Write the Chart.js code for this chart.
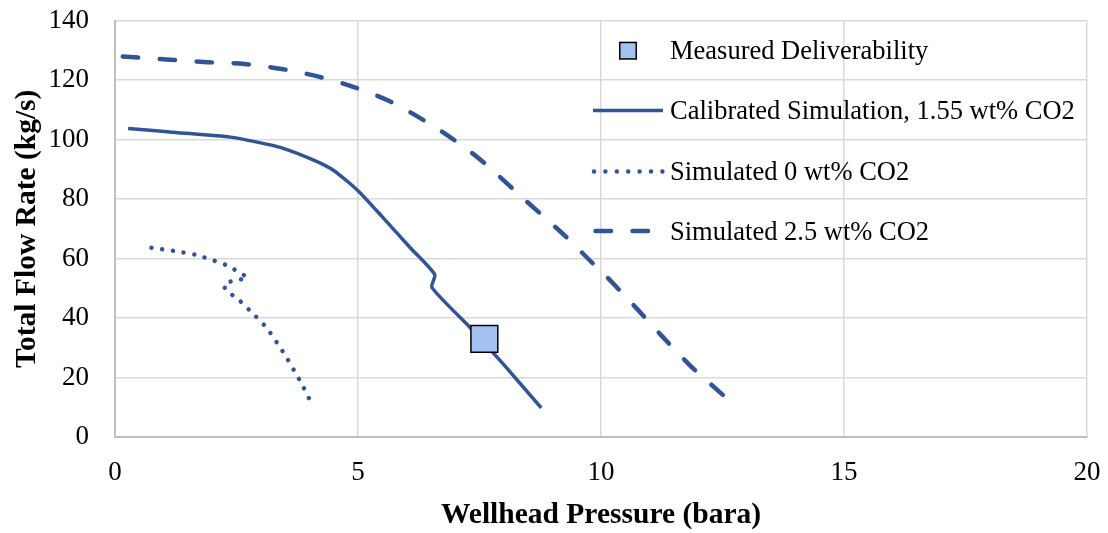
<!DOCTYPE html>
<html>
<head>
<meta charset="utf-8">
<script src="https://cdn.jsdelivr.net/npm/chart.js@4/dist/chart.umd.min.js"></script>
<style>
html,body{margin:0;padding:0;background:#fff;}
#wrap{width:1108px;height:533px;position:relative;}
</style>
</head>
<body>
<div id="wrap"><canvas id="c" width="1108" height="533"></canvas></div>
<script>
// ---- Data ----
const seriesNames = ["Measured Deliverability", "Calibrated Simulation, 1.55 wt% CO2", "Simulated 0 wt% CO2", "Simulated 2.5 wt% CO2"];

const measuredX = [7.6];
const measuredY = [33];

const calibratedX = [0.27, 1.3, 2.37, 2.9, 3.43, 4.1, 4.5, 5.0, 5.5, 6.07, 6.58, 6.52, 7.3, 8.0, 8.77];
const calibratedY = [103.7, 102.3, 100.8, 99.2, 97.2, 93.0, 89.6, 82.8, 74.0, 63.7, 54.6, 50.3, 36.9, 24.3, 9.8];

const sim0X = [0.75, 1.2, 1.65, 2.05, 2.3, 2.5, 2.72, 2.45, 2.24, 2.3, 2.5, 2.8, 3.12, 3.5, 3.83, 4.03];
const sim0Y = [63.6, 62.6, 61.3, 59.2, 57.7, 55.9, 53.5, 52.6, 51.3, 49.0, 46.8, 42.1, 36.7, 27.5, 18.2, 11.7];

const sim25X = [0.16, 1.13, 1.9, 2.66, 3.43, 4.17, 4.9, 5.62, 6.29, 6.93, 7.55, 8.4, 9.26, 9.81, 10.12, 10.66, 11.25, 11.83, 12.38, 12.54];
const sim25Y = [127.9, 126.8, 126.0, 125.4, 123.7, 121.2, 117.7, 113.1, 107.1, 100.4, 92.8, 80.2, 67.6, 58.7, 53.8, 44.5, 34.0, 24.1, 16.0, 13.7];

const xTicks = [0, 5, 10, 15, 20];
const yTicks = [0, 20, 40, 60, 80, 100, 120, 140];

const xTitle = "Wellhead Pressure (bara)";
const yTitle = "Total Flow Rate (kg/s)";

// ---- Helpers ----
const zip = (xs, ys) => xs.map((x, i) => ({x: x, y: ys[i]}));
const BLUE = '#2f5597';
const FILL = '#a4c2f1';
const FONT = "'Liberation Serif', 'Times New Roman', serif";

const legendPlugin = {
  id: 'insideLegend',
  afterDraw(chart) {
    const ctx = chart.ctx;
    ctx.save();
    const textX = 670;
    const baselines = [59, 119, 179.5, 240];
    const mids = [50.7, 110.5, 171.5, 231];
    ctx.font = "26.5px " + FONT;
    ctx.fillStyle = '#000';
    ctx.textBaseline = 'alphabetic';
    ctx.textAlign = 'left';
    seriesNames.forEach((n, i) => ctx.fillText(n, textX, baselines[i]));
    // marker
    ctx.fillStyle = FILL;
    ctx.strokeStyle = '#000';
    ctx.lineWidth = 1.5;
    const s = 16.5;
    ctx.fillRect(628 - s/2, mids[0] - s/2, s, s);
    ctx.strokeRect(628 - s/2, mids[0] - s/2, s, s);
    // solid
    ctx.strokeStyle = BLUE;
    ctx.lineCap = 'butt';
    ctx.lineWidth = 3.5;
    ctx.setLineDash([]);
    ctx.beginPath(); ctx.moveTo(593, mids[1]); ctx.lineTo(663, mids[1]); ctx.stroke();
    // dotted
    ctx.lineCap = 'round';
    ctx.lineWidth = 4.5;
    ctx.setLineDash([0.001, 11.4]);
    ctx.beginPath(); ctx.moveTo(594, mids[2]); ctx.lineTo(664, mids[2]); ctx.stroke();
    // dashed
    ctx.lineWidth = 4.5;
    ctx.setLineDash([15.5, 21.5]);
    ctx.beginPath(); ctx.moveTo(595.5, mids[3]); ctx.lineTo(648, mids[3]); ctx.stroke();
    ctx.restore();
  }
};

const bgPlugin = {
  id: 'bg',
  beforeDraw(chart) {
    const ctx = chart.ctx;
    ctx.save();
    ctx.fillStyle = '#fff';
    ctx.fillRect(0, 0, chart.width, chart.height);
    ctx.restore();
  }
};

new Chart(document.getElementById('c'), {
  type: 'scatter',
  data: {
    datasets: [
      {
        label: seriesNames[0],
        data: zip(measuredX, measuredY),
        pointStyle: 'rect',
        pointRadius: 19,
        pointHoverRadius: 19,
        backgroundColor: FILL,
        borderColor: '#000',
        borderWidth: 1.5,
        showLine: false
      },
      {
        label: seriesNames[1],
        data: zip(calibratedX, calibratedY),
        showLine: true,
        borderColor: BLUE,
        borderWidth: 3.5,
        pointRadius: 0,
        tension: 0.2,
        fill: false
      },
      {
        label: seriesNames[2],
        data: zip(sim0X, sim0Y),
        showLine: true,
        borderColor: BLUE,
        borderWidth: 4.5,
        borderDash: [0.001, 10.8],
        borderCapStyle: 'round',
        pointRadius: 0,
        tension: 0.2,
        fill: false
      },
      {
        label: seriesNames[3],
        data: zip(sim25X, sim25Y),
        showLine: true,
        borderColor: BLUE,
        borderWidth: 4.5,
        borderDash: [15.5, 21.5],
        borderCapStyle: 'round',
        pointRadius: 0,
        tension: 0.3,
        fill: false
      }
    ]
  },
  options: {
    responsive: false,
    animation: false,
    layout: {padding: {top: 19, right: 21, bottom: 0, left: 0}},
    plugins: {
      legend: {display: false},
      tooltip: {enabled: false}
    },
    scales: {
      x: {
        type: 'linear',
        min: 0, max: 20,
        afterBuildTicks(scale) { scale.ticks = xTicks.map(v => ({value: v})); },
        afterFit(scale) { scale.height = 96; scale.paddingLeft = 0; scale.paddingRight = 0; },
        grid: {color: '#d9d9d9', lineWidth: 1.5, drawTicks: false},
        border: {color: '#bfbfbf', width: 2},
        ticks: {color: '#000', font: {family: FONT, size: 27}, padding: 20, maxRotation: 0},
        title: {display: true, text: xTitle, color: '#000', font: {family: FONT, size: 29.5, weight: 'bold'}, padding: {top: 0, bottom: 0}}
      },
      y: {
        type: 'linear',
        min: 0, max: 140,
        afterBuildTicks(scale) { scale.ticks = yTicks.map(v => ({value: v})); },
        afterFit(scale) { scale.width = 115; scale.paddingTop = 0; scale.paddingBottom = 0; },
        grid: {color: '#d9d9d9', lineWidth: 1.5, drawTicks: false},
        border: {color: '#bfbfbf', width: 2},
        ticks: {color: '#000', font: {family: FONT, size: 27}, padding: 26},
        title: {display: true, text: yTitle, color: '#000', font: {family: FONT, size: 29.5, weight: 'bold'}, padding: {top: 10, bottom: 0}}
      }
    }
  },
  plugins: [bgPlugin, legendPlugin]
});
</script>
</body>
</html>
